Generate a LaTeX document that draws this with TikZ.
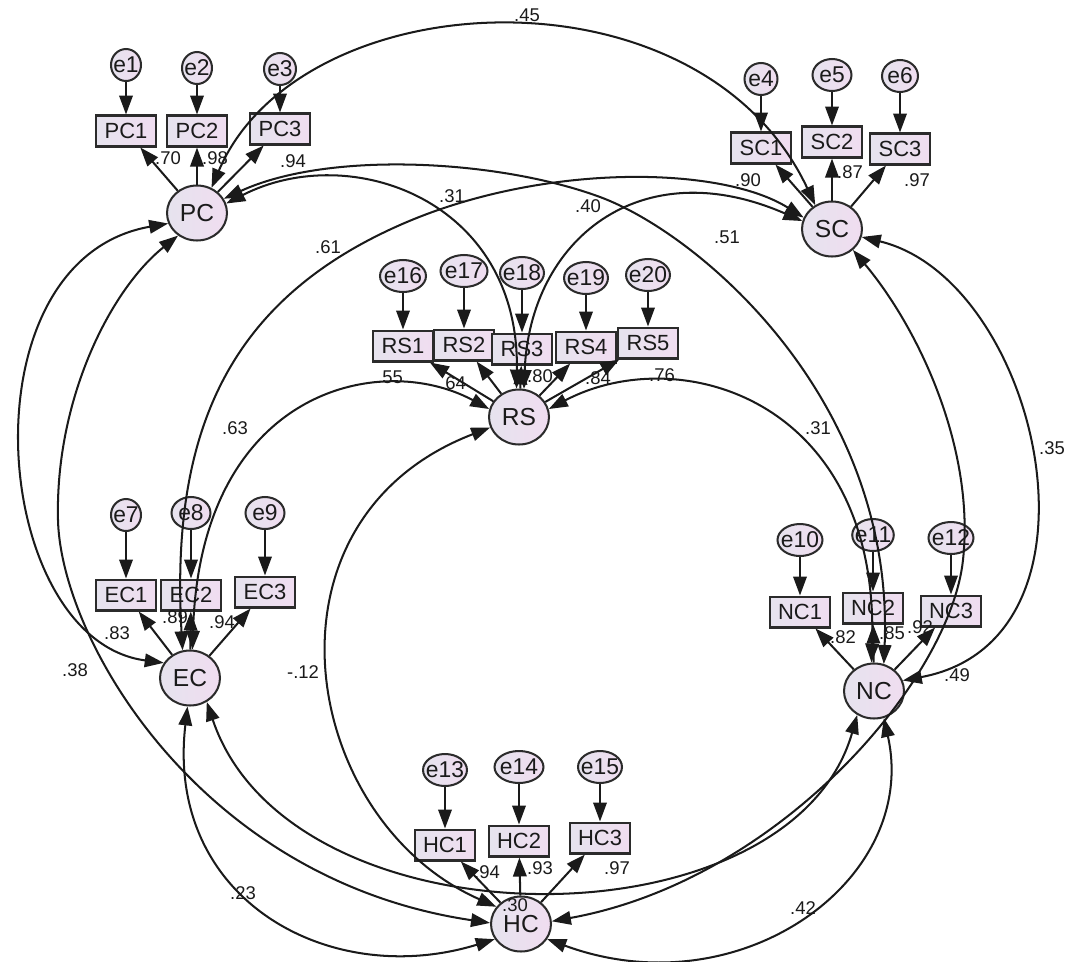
\documentclass[tikz,border=0pt]{standalone}
\usepackage{fontspec}
\setmainfont{Liberation Sans}
\usepackage{tikz}
\usetikzlibrary{arrows.meta,shapes.geometric}
\definecolor{edge}{HTML}{2B2B2B}
\definecolor{ink}{HTML}{1A1A1A}
\definecolor{lavA}{HTML}{E6E3EE}
\definecolor{lavB}{HTML}{F0DDF0}
\tikzset{
  >={Triangle[length=0.38cm,width=0.27cm]},
  latent/.style={ellipse,draw=edge,line width=1.15pt,left color=lavA,right color=lavB,
    minimum width=1.2cm,minimum height=1.1cm,inner sep=0pt,text=ink,
    font=\fontsize{14}{15}\selectfont},
  obsbox/.style={rectangle,draw=edge,line width=1.15pt,left color=lavA,right color=lavB,
    minimum width=1.2cm,minimum height=0.62cm,inner sep=0pt,text=ink,
    font=\fontsize{12.5}{13}\selectfont},
  errnode/.style={ellipse,draw=edge,line width=1.15pt,left color=lavA,right color=lavB,
    minimum width=#1,minimum height=0.64cm,inner sep=-2pt,text=ink,
    font=\fontsize{13}{14}\selectfont},
  loadarrow/.style={->,line width=1.15pt,draw=ink},
  cov/.style={<->,line width=1.15pt,draw=ink},
  coef/.style={font=\fontsize{10.5}{11}\selectfont,text=ink,inner sep=0pt}
}
\begin{document}
\begin{tikzpicture}[x=0.02cm,y=-0.02cm]
  \path[use as bounding box,fill=white] (0,0) rectangle (1069,961);
  \node[latent] (PC) at (197,213) {PC};
  \node[latent] (SC) at (832,229) {SC};
  \node[latent] (RS) at (519,417) {RS};
  \node[latent] (EC) at (190,678) {EC};
  \node[latent] (NC) at (874,691) {NC};
  \node[latent] (HC) at (521,924) {HC};
  \foreach \name/\x/\y in {PC1/126/131,PC2/197/131,PC3/280/129,SC1/761/148,SC2/832/142,SC3/900/149,
    RS1/403/346,RS2/464/345,RS3/522/349,RS4/586/347,RS5/648/343,EC1/126/595,EC2/191/595,EC3/265/592,
    NC1/800/612,NC2/873/608,NC3/951/611,HC1/445/845,HC2/519/841,HC3/600/838}
    \node[obsbox] (\name) at (\x,\y) {\name};
  \foreach \name/\obs/\x/\y/\ew in {e1/PC1/126/65/0.6cm,e2/PC2/197/68/0.6cm,e3/PC3/280/69/0.64cm,
    e4/SC1/761/79/0.66cm,e5/SC2/832/75/0.78cm,e6/SC3/900/76/0.72cm,e7/EC1/126/515/0.6cm,
    e8/EC2/191/513/0.78cm,e9/EC3/265/513/0.78cm,e10/NC1/800/540/0.9cm,e11/NC2/873/535/0.82cm,
    e12/NC3/951/538/0.9cm,e13/HC1/445/770/0.86cm,e14/HC2/519/767/0.98cm,e15/HC3/600/767/0.88cm,
    e16/RS1/403/276/0.92cm,e17/RS2/464/271/0.94cm,e18/RS3/522/273/0.82cm,e19/RS4/586/278/0.86cm,
    e20/RS5/648/275/0.8cm}{
    \node[errnode=\ew] (\name) at (\x,\y) {\name};
    \draw[loadarrow] (\name) -- (\obs);
  }
  \foreach \src/\obs/\val/\x/\y in {PC/PC1/.70/168/158,PC/PC2/.98/215/158,PC/PC3/.94/293/161,
    SC/SC1/.90/748/180,SC/SC2/.87/850/172,SC/SC3/.97/917/180,RS/RS1/.55/390/377,RS/RS2/.64/453/383,
    RS/RS3/.80/540/376,RS/RS4/.84/598/378,RS/RS5/.76/662/375,EC/EC1/.83/117/633,EC/EC2/.89/175/617,
    EC/EC3/.94/222/622,NC/NC1/.82/843/637,NC/NC2/.85/892/633,NC/NC3/.92/920/627,HC/HC1/.94/487/872,
    HC/HC2/.93/540/868,HC/HC3/.97/617/868}{
    \draw[loadarrow] (\src) -- (\obs);
    \node[coef] (w\obs) at (\x,\y) {\val};
  }
  \draw[cov] (PC.60) .. controls (300,-20) and (700,-40) .. (SC.125);
  \draw[cov] (PC.18) .. controls (350,140) and (520,200) .. (RS.95);
  \draw[cov] (PC.28) .. controls (330,150) and (500,160) .. (600,197)
    .. controls (700,234) and (895,400) .. (NC.70);
  \draw[cov] (PC.200) .. controls (-40,260) and (-10,640) .. (EC.150);
  \draw[cov] (PC.230) .. controls (110,290) and (55,400) .. (58,520)
    .. controls (61,640) and (200,880) .. (HC.178);
  \draw[cov] (RS.80) .. controls (530,240) and (640,150) .. (SC.165);
  \draw[cov] (EC.105) .. controls (170,430) and (230,300) .. (400,225)
    .. controls (540,163) and (720,165) .. (SC.158);
  \draw[cov] (SC.-15) .. controls (1040,280) and (1120,640) .. (NC.20);
  \draw[cov] (SC.-45) .. controls (920,330) and (975,450) .. (963,560)
    .. controls (950,680) and (780,880) .. (HC.5);
  \draw[cov] (RS.165) .. controls (380,350) and (200,390) .. (EC.85);
  \draw[cov] (RS.15) .. controls (680,340) and (880,400) .. (NC.95);
  \draw[cov] (RS.200) .. controls (250,520) and (300,820) .. (HC.145);
  \draw[cov] (EC.-55) .. controls (290,950) and (790,950) .. (NC.-125);
  \draw[cov] (EC.-95) .. controls (165,900) and (330,990) .. (HC.210);
  \draw[cov] (NC.-70) .. controls (920,880) and (740,1010) .. (HC.-30);
  \node[coef] (cPCSC) at (527,15) {.45};
  \node[coef] (cPCRS) at (452,196) {.31};
  \node[coef] (cRSSC) at (588,206) {.40};
  \node[coef] (cECSC) at (328,247) {.61};
  \node[coef] (cPCNC) at (727,237) {.51};
  \node[coef] (cECRS) at (235,428) {.63};
  \node[coef] (cRSNC) at (818,428) {.31};
  \node[coef] (cSCNC) at (1052,448) {.35};
  \node[coef] (cPCHC) at (75,670) {.38};
  \node[coef] (cRSHC) at (303,672) {-.12};
  \node[coef] (cSCHC) at (957,675) {.49};
  \node[coef] (cECHC) at (243,893) {.23};
  \node[coef] (cNCHC) at (803,908) {.42};
  \node[coef] (cECNC) at (515,905) {.30};
\end{tikzpicture}
\end{document}
